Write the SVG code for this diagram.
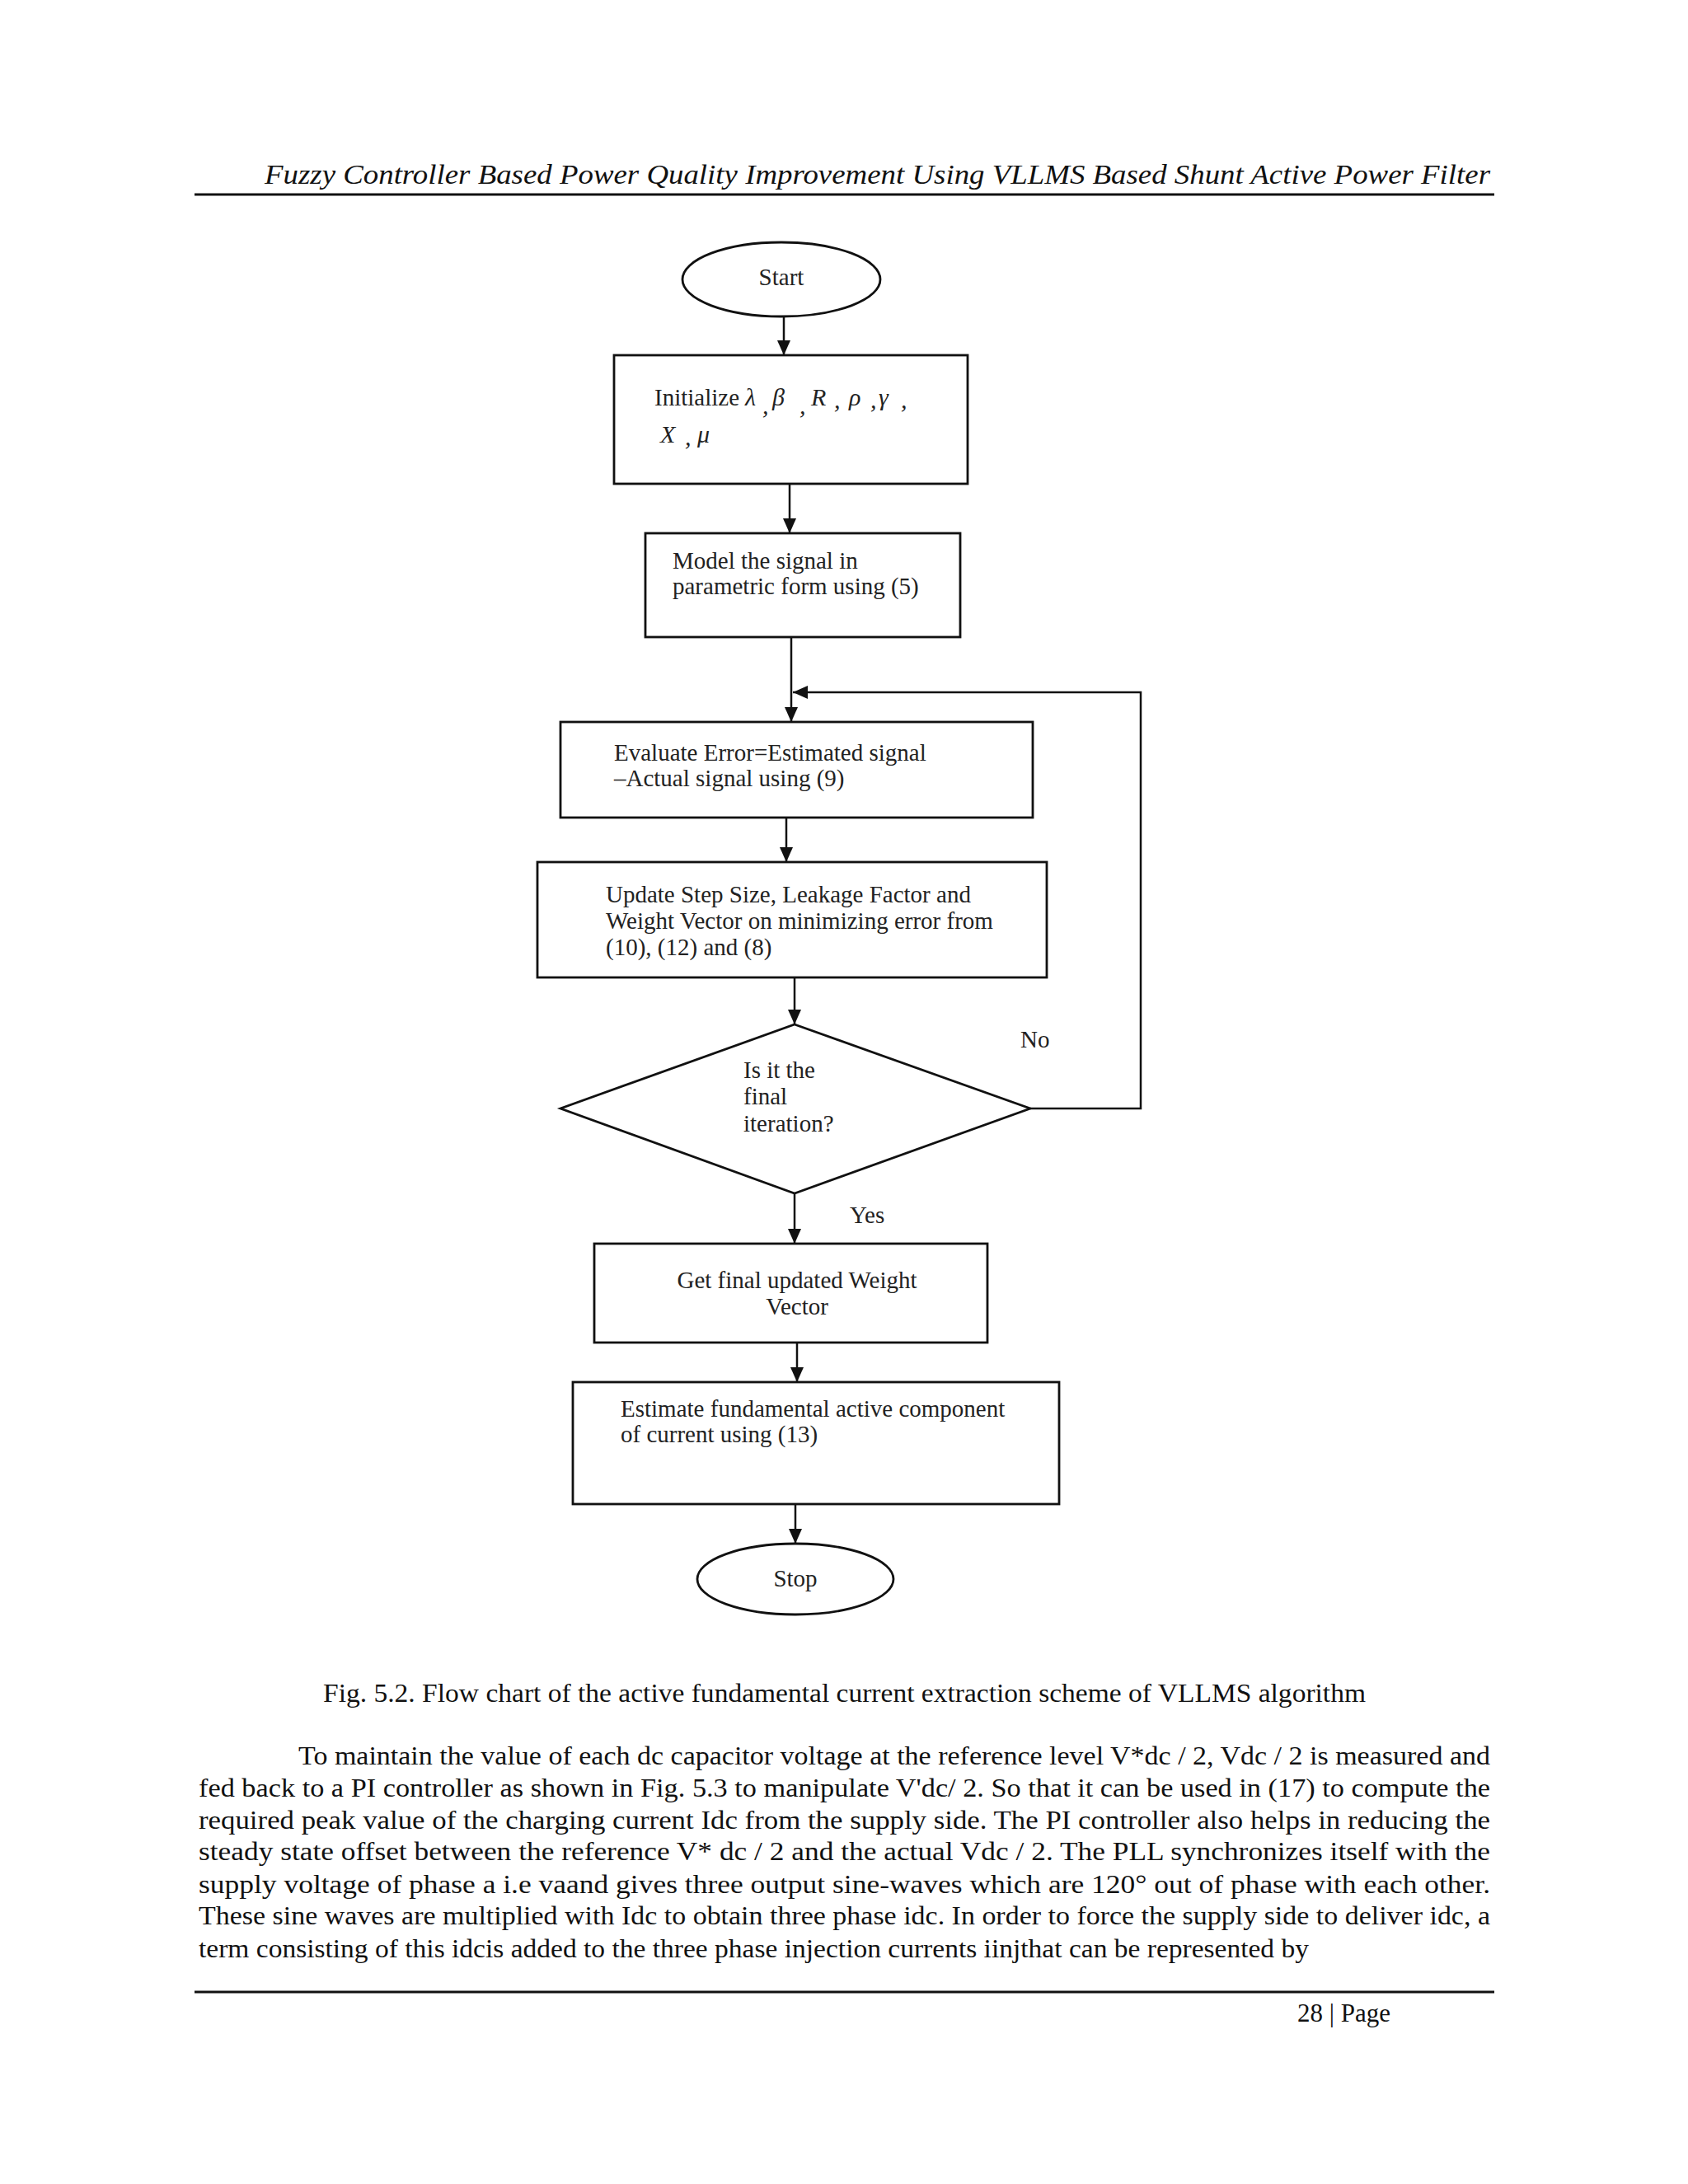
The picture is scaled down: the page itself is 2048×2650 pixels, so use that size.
<svg xmlns="http://www.w3.org/2000/svg" width="2048" height="2650" viewBox="0 0 2048 2650">
<defs>
<style>
.box{fill:#fff;stroke:#111;stroke-width:2.8}
.con{fill:none;stroke:#111;stroke-width:2.5}
.t{font-family:"Liberation Serif","Times New Roman",serif;font-size:29px;fill:#222}
.s{font-family:"Liberation Serif","Times New Roman",serif;font-style:italic;font-size:30px;fill:#222}
.body{font-family:"Liberation Serif","Times New Roman",serif;font-size:31px;fill:#111}
.hdr{font-family:"Liberation Serif","Times New Roman",serif;font-style:italic;font-size:34px;fill:#111}
</style>
<marker id="ah" viewBox="0 0 18 16" markerWidth="18" markerHeight="16" refX="18" refY="8" orient="auto" markerUnits="userSpaceOnUse">
<path d="M0,0 L18,8 L0,16 z" fill="#111"/>
</marker>
</defs>
<rect width="2048" height="2650" fill="#fff"/>

<text class="hdr" x="321" y="223" textLength="1487" lengthAdjust="spacingAndGlyphs">Fuzzy Controller Based Power Quality Improvement Using VLLMS Based Shunt Active Power Filter</text>
<line x1="236" y1="236" x2="1813" y2="236" stroke="#111" stroke-width="3"/>

<g id="connectors">
<line class="con" x1="951" y1="385" x2="951" y2="431" marker-end="url(#ah)"/>
<line class="con" x1="958" y1="587" x2="958" y2="647" marker-end="url(#ah)"/>
<line class="con" x1="960" y1="773" x2="960" y2="876" marker-end="url(#ah)"/>
<polyline class="con" points="1250,1345 1384,1345 1384,840 962,840" marker-end="url(#ah)"/>
<line class="con" x1="954" y1="992" x2="954" y2="1046" marker-end="url(#ah)"/>
<line class="con" x1="964" y1="1186" x2="964" y2="1243" marker-end="url(#ah)"/>
<line class="con" x1="964" y1="1448" x2="964" y2="1509" marker-end="url(#ah)"/>
<line class="con" x1="967" y1="1629" x2="967" y2="1677" marker-end="url(#ah)"/>
<line class="con" x1="965" y1="1825" x2="965" y2="1873" marker-end="url(#ah)"/>
<text class="t" x="1238" y="1271">No</text>
<text class="t" x="1031" y="1484">Yes</text>
</g>

<g id="start">
<ellipse class="box" cx="948" cy="339" rx="120" ry="45"/>
<text class="t" x="948" y="346" text-anchor="middle" font-size="22">Start</text>
</g>

<g id="init">
<rect class="box" x="745" y="431" width="429" height="156"/>
<text class="t" x="794" y="492">Initialize</text>
<text class="s" x="904" y="492">λ</text>
<text class="s" x="925" y="502" font-size="24">,</text>
<text class="s" x="937" y="492" font-size="36">β</text>
<text class="s" x="970" y="502" font-size="24">,</text>
<text class="s" x="984" y="492">R</text>
<text class="s" x="1012" y="495" font-size="24">,</text>
<text class="s" x="1030" y="492">ρ</text>
<text class="s" x="1056" y="495" font-size="24">,</text>
<text class="s" x="1066" y="492">γ</text>
<text class="s" x="1093" y="495" font-size="24">,</text>
<text class="s" x="801" y="537" font-size="32">X</text>
<text class="s" x="831" y="540" font-size="24">,</text>
<text class="s" x="846" y="537">μ</text>
</g>

<g id="model">
<rect class="box" x="783" y="647" width="382" height="126"/>
<text class="t" x="816" y="690">Model the signal in</text>
<text class="t" x="816" y="721">parametric form using (5)</text>
</g>

<g id="evaluate">
<rect class="box" x="680" y="876" width="573" height="116"/>
<text class="t" x="745" y="923">Evaluate Error=Estimated signal</text>
<text class="t" x="745" y="954">–Actual signal using (9)</text>
</g>

<g id="update">
<rect class="box" x="652" y="1046" width="618" height="140"/>
<text class="t" x="735" y="1095">Update Step Size, Leakage Factor and</text>
<text class="t" x="735" y="1127">Weight Vector on minimizing error from</text>
<text class="t" x="735" y="1159">(10), (12) and (8)</text>
</g>

<g id="decision">
<polygon class="box" points="964,1243 1250,1345 964,1448 680,1345"/>
<text class="t" x="902" y="1308">Is it the</text>
<text class="t" x="902" y="1340">final</text>
<text class="t" x="902" y="1373">iteration?</text>
</g>

<g id="getfinal">
<rect class="box" x="721" y="1509" width="477" height="120"/>
<text class="t" x="967" y="1563" text-anchor="middle">Get final updated Weight</text>
<text class="t" x="967" y="1595" text-anchor="middle">Vector</text>
</g>

<g id="estimate">
<rect class="box" x="695" y="1677" width="590" height="148"/>
<text class="t" x="753" y="1719">Estimate fundamental active component</text>
<text class="t" x="753" y="1750">of current using (13)</text>
</g>

<g id="stop">
<ellipse class="box" cx="965" cy="1916" rx="119" ry="43"/>
<text class="t" x="965" y="1925" text-anchor="middle" font-size="27">Stop</text>
</g>

<text class="body" x="392" y="2065" textLength="1265" lengthAdjust="spacingAndGlyphs">Fig. 5.2. Flow chart of the active fundamental current extraction scheme of VLLMS algorithm</text>

<text class="body" x="362" y="2141" textLength="1446" lengthAdjust="spacingAndGlyphs">To maintain the value of each dc capacitor voltage at the reference level V*dc / 2, Vdc / 2 is measured and</text>
<text class="body" x="241" y="2180" textLength="1567" lengthAdjust="spacingAndGlyphs">fed back to a PI controller as shown in Fig. 5.3 to manipulate V'dc/ 2. So that it can be used in (17) to compute the</text>
<text class="body" x="241" y="2219" textLength="1567" lengthAdjust="spacingAndGlyphs">required peak value of the charging current Idc from the supply side. The PI controller also helps in reducing the</text>
<text class="body" x="241" y="2257" textLength="1567" lengthAdjust="spacingAndGlyphs">steady state offset between the reference V* dc / 2 and the actual Vdc / 2. The PLL synchronizes itself with the</text>
<text class="body" x="241" y="2297" textLength="1567" lengthAdjust="spacingAndGlyphs">supply voltage of phase a i.e vaand gives three output sine-waves which are 120° out of phase with each other.</text>
<text class="body" x="241" y="2335" textLength="1567" lengthAdjust="spacingAndGlyphs">These sine waves are multiplied with Idc to obtain three phase idc. In order to force the supply side to deliver idc, a</text>
<text class="body" x="241" y="2375" textLength="1347" lengthAdjust="spacingAndGlyphs">term consisting of this idcis added to the three phase injection currents iinjthat can be represented by</text>

<line x1="236" y1="2417" x2="1813" y2="2417" stroke="#111" stroke-width="3"/>
<text class="body" x="1574" y="2453">28 | Page</text>
</svg>
